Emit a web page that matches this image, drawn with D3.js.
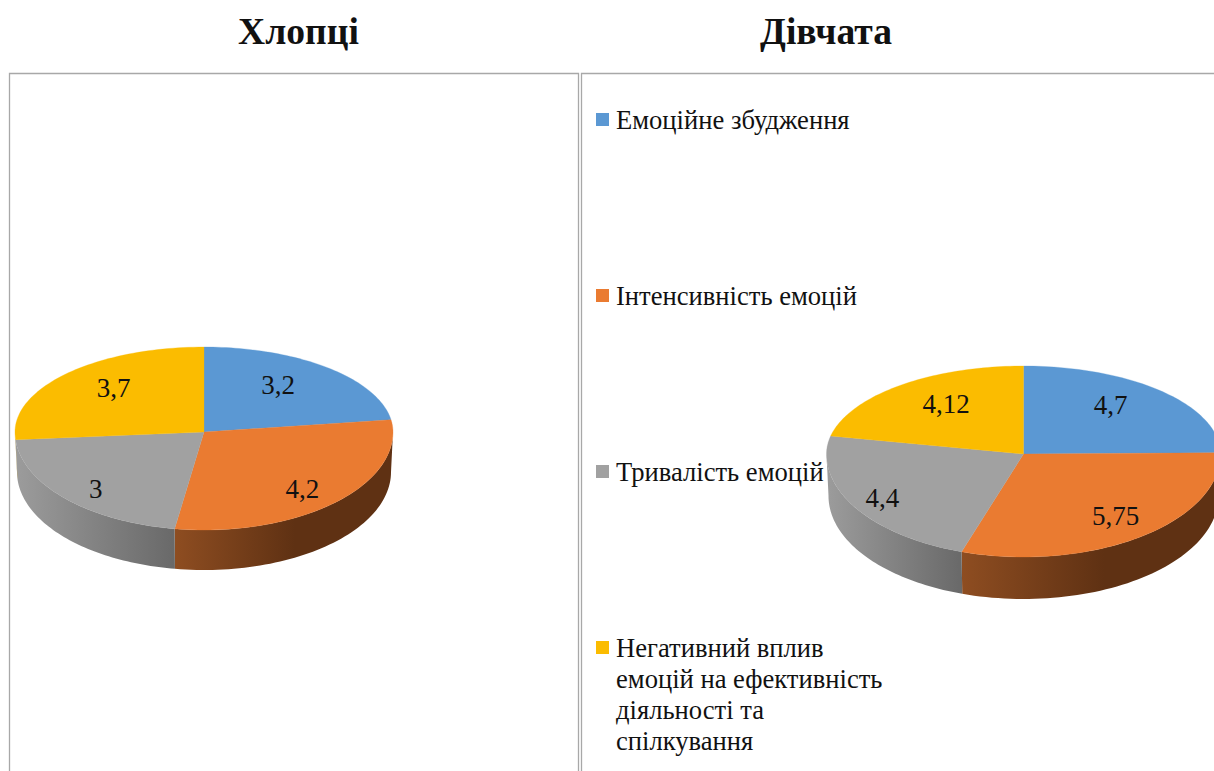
<!DOCTYPE html>
<html><head><meta charset="utf-8">
<script src="https://cdn.jsdelivr.net/npm/d3@7"></script>
<style>html,body{margin:0;padding:0;background:#fff;overflow:hidden}svg{display:block}text{font-family:"Liberation Serif",serif;fill:#111}</style>
</head><body><div id="chart"></div>
<script>
const categories = ["Емоційне збудження","Інтенсивність емоцій","Тривалість емоцій","Негативний вплив емоцій на ефективність діяльності та спілкування"];
const legendLines = [["Емоційне збудження"],["Інтенсивність емоцій"],["Тривалість емоцій"],["Негативний вплив","емоцій на ефективність","діяльності та","спілкування"]];
const boysValues = [3.2,4.2,3,3.7];
const girlsValues = [4.7,5.75,4.4,4.12];
const boysLabels = ["3,2","4,2","3","3,7"];
const girlsLabels = ["4,7","5,75","4,4","4,12"];
const colors = ["#5B98D3","#EA7B31","#A1A1A1","#FBBC00"];
const wallFrom = ["#3f6d96","#8E4D21","#9c9c9c","#a88000"];
const wallTo = ["#36607f","#5F3113","#696969","#806000"];
const wallStop = [1,0.55,1,1];

const W=1214,H=771;
const svg=d3.select("#chart").append("svg").attr("width",W).attr("height",H);
const defs=svg.append("defs");

// frames
const frameColor="#a8a8a8";
[[9.5,578.5],[581.5,1300]].forEach(([a,b])=>{
  svg.append("path").attr("d",`M${a},${H+2}V73.5H${b}V${H+2}`).attr("fill","none").attr("stroke",frameColor).attr("stroke-width",1.3);
});

// titles
[["Хлопці",298.5],["Дівчата",826]].forEach(([t,x])=>{
  svg.append("text").attr("x",x).attr("y",44).attr("text-anchor","middle").attr("font-size",37.6).attr("font-weight","bold").text(t);
});

function pie3d(id,values,labels,g){
  const pie=d3.pie().sort(null).value(d=>d)(values);
  const x=d3.scaleLinear().domain([-1,1]).range([g.cx-g.rx,g.cx+g.rx]);
  const y=d3.scaleLinear().domain([-1,0,1]).range([g.cy+g.ryb,g.cy,g.cy-g.ryt]);
  const xb=d3.scaleLinear().domain([-1,1]).range([g.cx-g.rx+g.inset,g.cx+g.rx-g.inset]);
  const yb=d3.scaleLinear().domain([-1,0,1]).range([g.cy+g.depth+g.ryb,g.cy+g.depth,g.cy+g.depth-g.ryt]);
  const line=d3.line();
  const samples=(a,b)=>d3.range(0,61).map(i=>a+(b-a)*i/60);
  const layer=svg.append("g");
  // walls on the near half
  pie.forEach((s,i)=>{
    const a=Math.max(s.startAngle,Math.PI/2),b=Math.min(s.endAngle,Math.PI*1.5);
    if(b<=a) return;
    const top=samples(a,b).map(t=>[x(Math.sin(t)),y(Math.cos(t))]);
    const bot=samples(a,b).map(t=>[xb(Math.sin(t)),yb(Math.cos(t))]).reverse();
    const x0=d3.min(top,p=>p[0]),x1=d3.max(top,p=>p[0]);
    const gid=`${id}w${i}`;
    const lg=defs.append("linearGradient").attr("id",gid).attr("gradientUnits","userSpaceOnUse")
      .attr("x1",x0).attr("x2",x1).attr("y1",0).attr("y2",0);
    lg.append("stop").attr("offset",0).attr("stop-color",wallFrom[i]);
    lg.append("stop").attr("offset",wallStop[i]).attr("stop-color",wallTo[i]);
    layer.append("path").attr("d",line(top.concat(bot))+"Z").attr("fill",`url(#${gid})`);
  });
  // top faces
  pie.forEach((s,i)=>{
    const pts=[[x(0),y(0)]].concat(samples(s.startAngle,s.endAngle).map(t=>[x(Math.sin(t)),y(Math.cos(t))]));
    layer.append("path").attr("d",line(pts)+"Z").attr("fill",colors[i]).attr("stroke",colors[i]).attr("stroke-width",0.3);
  });
  // value labels
  pie.forEach((s,i)=>{
    const m=(s.startAngle+s.endAngle)/2;
    layer.append("text").attr("x",x(g.labelR*Math.sin(m))+g.nudge[i][0]).attr("y",y(g.labelR*Math.cos(m))+g.nudge[i][1])
      .attr("text-anchor","middle").attr("dominant-baseline","central").attr("font-size",27).text(labels[i]);
  });
}
pie3d("b",boysValues,boysLabels,{cx:204,cy:432,rx:189,ryt:85,ryb:98,depth:40,inset:2,labelR:.68,
  nudge:[[-10,-3],[8,10],[-14,12],[4,-5]]});
pie3d("g",girlsValues,girlsLabels,{cx:1023.5,cy:454,rx:197,ryt:88,ryb:103,depth:42,inset:2,labelR:.68,
  nudge:[[-7,-6],[13,6],[-25,9],[7,-4]]});

// legend
const legendY=d3.scalePoint().domain(categories).range([129,657]);
const leg=svg.append("g").selectAll("g").data(categories).join("g");
leg.append("rect").attr("x",596).attr("y",d=>legendY(d)-16).attr("width",13).attr("height",13).attr("fill",(d,i)=>colors[i]);
leg.append("text").attr("font-size",26.6).each(function(d,i){
  d3.select(this).selectAll("tspan").data(legendLines[i]).join("tspan")
    .attr("x",616).attr("y",(l,j)=>legendY(d)+j*31).text(l=>l);
});
</script></body></html>
